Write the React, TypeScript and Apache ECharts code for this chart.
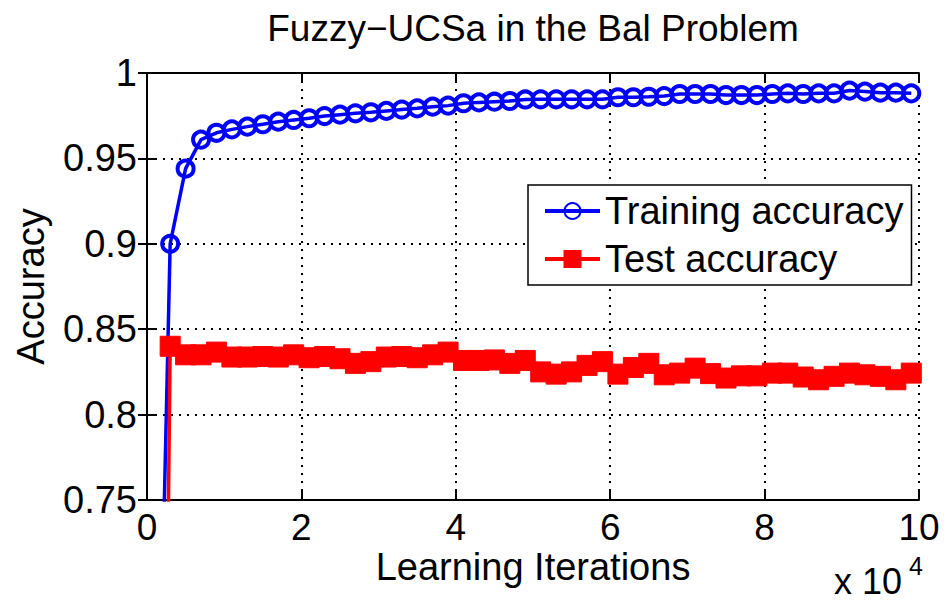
import React, { useEffect, useRef } from "react";
import * as echarts from "echarts";

const titleText = "Fuzzy\u2212UCSa in the Bal Problem";
const xAxisName = "Learning Iterations";
const yAxisName = "Accuracy";
const seriesNames = ["Training accuracy", "Test accuracy"];
const xTicks = [0, 2, 4, 6, 8, 10];
const yTicks = [0.75, 0.8, 0.85, 0.9, 0.95, 1];

// x in units of 10^4 learning iterations
const xValues = [
  0.1, 0.3, 0.5, 0.7, 0.9, 1.1, 1.3, 1.5, 1.7, 1.9,
  2.1, 2.3, 2.5, 2.7, 2.9, 3.1, 3.3, 3.5, 3.7, 3.9,
  4.1, 4.3, 4.5, 4.7, 4.9, 5.1, 5.3, 5.5, 5.7, 5.9,
  6.1, 6.3, 6.5, 6.7, 6.9, 7.1, 7.3, 7.5, 7.7, 7.9,
  8.1, 8.3, 8.5, 8.7, 8.9, 9.1, 9.3, 9.5, 9.7, 9.9,
];

const trainingAcc = [
  0.5, 0.9, 0.944, 0.961, 0.965, 0.967, 0.9686, 0.97, 0.9715, 0.9725,
  0.9735, 0.9748, 0.9756, 0.9764, 0.977, 0.9778, 0.9786, 0.9793, 0.9803, 0.9809,
  0.9823, 0.9828, 0.9832, 0.9836, 0.9845, 0.9846, 0.9846, 0.9846, 0.9846, 0.9846,
  0.9858, 0.9858, 0.9861, 0.9865, 0.9877, 0.9877, 0.9877, 0.9871, 0.9871, 0.9871,
  0.9877, 0.9881, 0.9877, 0.9881, 0.9881, 0.9897, 0.9891, 0.9885, 0.9885, 0.9881,
];

const testAcc = [
  0.0, 0.84, 0.835, 0.835, 0.8366, 0.8337, 0.8337, 0.834, 0.8337, 0.835,
  0.8333, 0.834, 0.8327, 0.83, 0.831, 0.8337, 0.834, 0.8333, 0.835, 0.8366,
  0.8317, 0.8317, 0.832, 0.83, 0.8317, 0.825, 0.8237, 0.825, 0.8288, 0.831,
  0.8237, 0.8276, 0.83, 0.8233, 0.8243, 0.8272, 0.824, 0.8214, 0.8227, 0.8227,
  0.8243, 0.8243, 0.822, 0.8204, 0.8224, 0.8243, 0.8233, 0.8224, 0.8204, 0.8243,
];

const FONT = "'Liberation Sans', Arial, Helvetica, sans-serif";
const BLUE = "#0000ff";
const RED = "#ff0000";

export default function App() {
  const ref = useRef<HTMLDivElement>(null);

  useEffect(() => {
    if (!ref.current) return;
    const chart = echarts.init(ref.current, undefined, { renderer: "svg" });

    const xMin = xTicks[0];
    const xMax = xTicks[xTicks.length - 1];
    const xInt = xTicks[1] - xTicks[0];
    const yMin = yTicks[0];
    const yMax = yTicks[yTicks.length - 1];
    const yInt = 0.05;

    const axisLine = { show: true, lineStyle: { color: "#000", width: 2 } };
    const tick = { show: true, inside: true, length: 9, lineStyle: { color: "#000", width: 2 } };
    const gridLine = {
      show: true,
      lineStyle: { color: "#000", width: 2, type: [2, 6] as any },
    };

    const option: any = {
      animation: false,
      backgroundColor: "#fff",
      textStyle: { fontFamily: FONT },
      grid: { left: 147, right: 33, top: 73, bottom: 100, containLabel: false },
      graphic: [
        {
          type: "text",
          x: 533,
          y: 28,
          style: {
            text: titleText,
            font: `37px ${FONT}`,
            fill: "#000",
            align: "center",
            verticalAlign: "middle",
          },
        },
        {
          type: "text",
          x: 533,
          y: 548,
          style: {
            text: xAxisName,
            fontSize: 38,
            fontFamily: FONT,
            lineHeight: 38,
            fill: "#000",
            align: "center",
            verticalAlign: "top",
          },
        },
        {
          type: "text",
          x: 834,
          y: 581,
          style: {
            text: "x 10",
            font: `36px ${FONT}`,
            fill: "#000",
            align: "left",
            verticalAlign: "middle",
          },
        },
        {
          type: "text",
          x: 909,
          y: 566,
          style: {
            text: "4",
            font: `25px ${FONT}`,
            fill: "#000",
            align: "left",
            verticalAlign: "middle",
          },
        },
      ],
      legend: {
        show: true,
        data: seriesNames,
        orient: "vertical",
        left: 528,
        top: 185,
        padding: [4, 8, 4, 15],
        itemGap: 4,
        itemWidth: 55,
        itemHeight: 20,
        backgroundColor: "#fff",
        borderColor: "#000",
        borderWidth: 1.5,
        lineStyle: { width: 4 },
        textStyle: { fontFamily: FONT, fontSize: 38, color: "#000", lineHeight: 44 },
      },
      xAxis: [
        {
          type: "value",
          min: xMin,
          max: xMax,
          interval: xInt,
          position: "bottom",
          axisLine,
          axisTick: tick,
          splitLine: gridLine,
          axisLabel: {
            show: true,
            color: "#000",
            fontSize: 37,
            lineHeight: 36,
            fontFamily: FONT,
            margin: 9,
            formatter: (v: number) => String(v),
          },
        },
        {
          type: "value",
          min: xMin,
          max: xMax,
          interval: xInt,
          position: "top",
          axisLine,
          axisTick: tick,
          splitLine: { show: false },
          axisLabel: { show: false },
        },
      ],
      yAxis: [
        {
          type: "value",
          min: yMin,
          max: yMax,
          interval: yInt,
          position: "left",
          axisLine,
          axisTick: tick,
          splitLine: gridLine,
          axisLabel: {
            show: true,
            color: "#000",
            fontSize: 38,
            fontFamily: FONT,
            margin: 10,
            formatter: (v: number) => String(+v.toFixed(2)),
          },
          name: yAxisName,
          nameLocation: "middle",
          nameGap: 97,
          nameRotate: 90,
          nameTextStyle: { color: "#000", fontSize: 38, fontFamily: FONT },
        },
        {
          type: "value",
          min: yMin,
          max: yMax,
          interval: yInt,
          position: "right",
          axisLine,
          axisTick: tick,
          splitLine: { show: false },
          axisLabel: { show: false },
        },
      ],
      series: [
        {
          name: seriesNames[0],
          type: "line",
          xAxisIndex: 0,
          yAxisIndex: 0,
          data: xValues.map((x, i) => [x, trainingAcc[i]]),
          symbol: "circle",
          symbolSize: 16,
          showAllSymbol: true,
          clip: true,
          lineStyle: { color: BLUE, width: 3.5 },
          itemStyle: { color: "rgba(255,255,255,0)", borderColor: BLUE, borderWidth: 4 },
          emphasis: { disabled: true },
        },
        {
          name: seriesNames[1],
          type: "line",
          xAxisIndex: 0,
          yAxisIndex: 0,
          data: xValues.map((x, i) => [x, testAcc[i]]),
          symbol: "rect",
          symbolSize: 20,
          showAllSymbol: true,
          clip: true,
          lineStyle: { color: RED, width: 3.5 },
          itemStyle: { color: RED, borderColor: RED, borderWidth: 1 },
          emphasis: { disabled: true },
        },
      ],
    };

    chart.setOption(option);
    return () => chart.dispose();
  }, []);

  return (
    <div
      ref={ref}
      style={{ position: "fixed", left: 0, top: 0, width: 952, height: 600, background: "#fff" }}
    />
  );
}
